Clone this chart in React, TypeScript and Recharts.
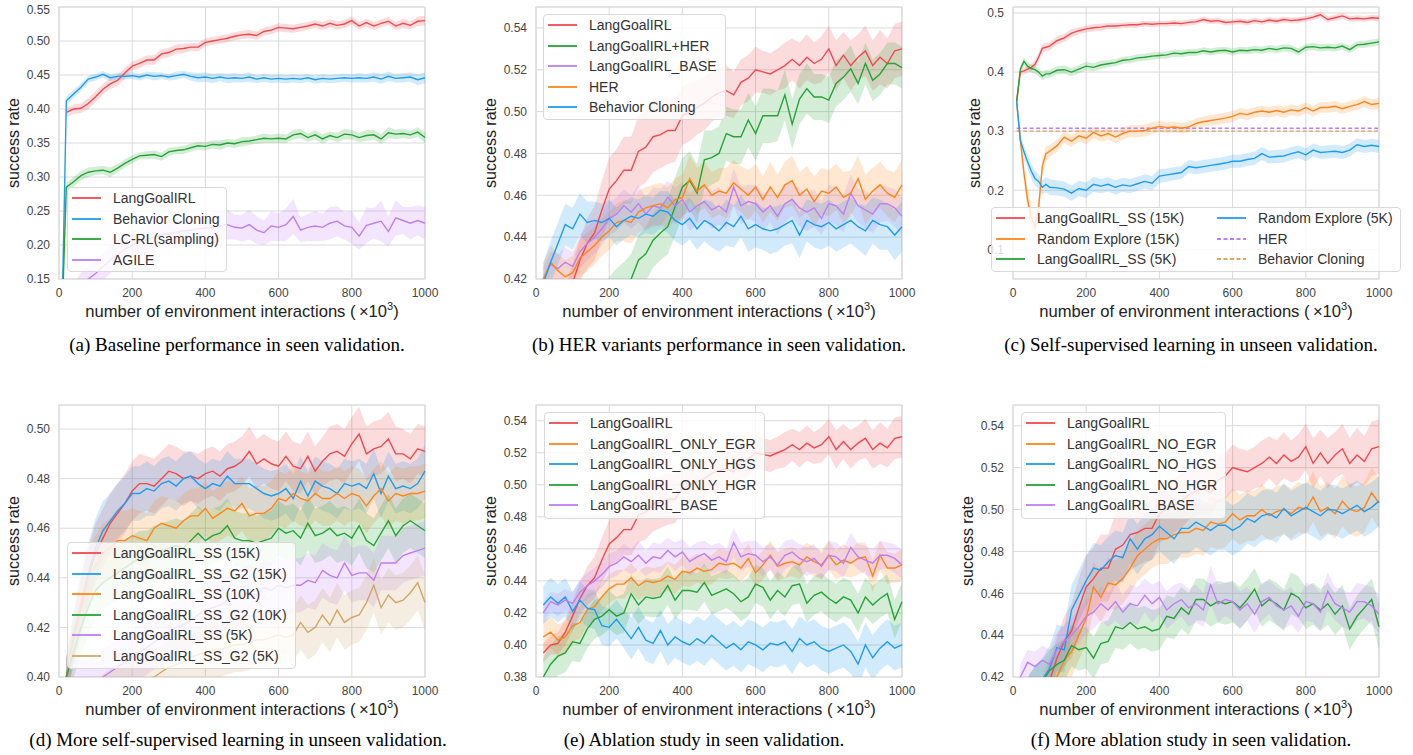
import React from 'react';
import { ComposedChart, Line, Area, XAxis, YAxis, CartesianGrid, ReferenceArea, ReferenceLine } from 'recharts';

// x positions (thousands of interactions)
const steps = [20, 40, 60, 80, 100, 120, 140, 160, 180, 200, 220, 240, 260, 280, 300, 320, 340, 360, 380, 400,
  420, 440, 460, 480, 500, 520, 540, 560, 580, 600, 620, 640, 660, 680, 700, 720, 740, 760, 780, 800,
  820, 840, 860, 880, 900, 920, 940, 960, 980, 1000];
const aX = [10, ...steps];
const cX = [10, 20, 30, 40, 50, 60, 70, 80, 90, 100, 120, 140, 160, 180, 200, 220, 240, 260, 280, 300, 320, 340, 360, 380, 400,
  420, 440, 460, 480, 500, 520, 540, 560, 580, 600, 620, 640, 660, 680, 700, 720, 740, 760, 780, 800,
  820, 840, 860, 880, 900, 920, 940, 960, 980, 1000];
const xTicks = [0, 200, 400, 600, 800, 1000];

// shared curves (seen validation)
const langGoalIRL = [0.395, 0.400, 0.401, 0.408, 0.418, 0.429, 0.437, 0.442, 0.453, 0.463,
  0.467, 0.472, 0.472, 0.481, 0.483, 0.488, 0.489, 0.491, 0.491, 0.498,
  0.500, 0.502, 0.504, 0.507, 0.509, 0.510, 0.508, 0.514, 0.516, 0.520,
  0.519, 0.518, 0.520, 0.522, 0.525, 0.522, 0.526, 0.523, 0.525, 0.530,
  0.522, 0.527, 0.522, 0.526, 0.529, 0.522, 0.526, 0.523, 0.529, 0.530];
const langGoalIRLBase = [0.420, 0.427, 0.425, 0.428, 0.426, 0.433, 0.437, 0.440, 0.444, 0.449,
  0.451, 0.455, 0.452, 0.456, 0.451, 0.455, 0.454, 0.459, 0.455, 0.458,
  0.452, 0.455, 0.457, 0.453, 0.455, 0.452, 0.464, 0.455, 0.457, 0.456,
  0.452, 0.455, 0.450, 0.456, 0.458, 0.454, 0.452, 0.454, 0.449, 0.456,
  0.455, 0.451, 0.461, 0.455, 0.453, 0.451, 0.456, 0.456, 0.454, 0.450];
const redSpreadWide = [0.006, 0.006, 0.007, 0.008, 0.009, 0.010, 0.012, 0.013, 0.014, 0.015,
  0.015, 0.016, 0.016, 0.017, 0.017, 0.017, 0.016, 0.016, 0.015, 0.014,
  0.014, 0.013, 0.013, 0.012, 0.012, 0.012, 0.011, 0.011, 0.011, 0.011,
  0.010, 0.010, 0.010, 0.011, 0.010, 0.011, 0.011, 0.010, 0.011, 0.011,
  0.012, 0.011, 0.012, 0.011, 0.012, 0.012, 0.013, 0.012, 0.013, 0.013];
const baseSpread = [0.006, 0.006, 0.007, 0.007, 0.007, 0.008, 0.008, 0.008, 0.008, 0.008,
  0.008, 0.008, 0.008, 0.009, 0.008, 0.009, 0.009, 0.008, 0.009, 0.008,
  0.009, 0.009, 0.008, 0.009, 0.009, 0.008, 0.009, 0.009, 0.008, 0.009,
  0.009, 0.008, 0.009, 0.009, 0.008, 0.009, 0.009, 0.009, 0.008, 0.009,
  0.009, 0.009, 0.009, 0.008, 0.009, 0.009, 0.009, 0.008, 0.009, 0.009];

// (a) baseline
const aRedSpread = [0.007, 0.007, 0.007, 0.008, 0.008, 0.008, 0.008, 0.008, 0.008, 0.007,
  0.007, 0.007, 0.007, 0.007, 0.007, 0.007, 0.007, 0.006, 0.006, 0.006,
  0.006, 0.006, 0.006, 0.006, 0.006, 0.006, 0.006, 0.006, 0.006, 0.006,
  0.006, 0.006, 0.006, 0.006, 0.006, 0.006, 0.006, 0.006, 0.006, 0.006,
  0.006, 0.006, 0.006, 0.006, 0.006, 0.006, 0.007, 0.006, 0.007, 0.007];
const aBC = [0.14, 0.412, 0.422, 0.432, 0.444, 0.447, 0.451, 0.446, 0.448, 0.448, 0.449,
  0.447, 0.450, 0.448, 0.449, 0.447, 0.449, 0.451, 0.448, 0.446, 0.447,
  0.445, 0.447, 0.445, 0.446, 0.445, 0.447, 0.444, 0.446, 0.444, 0.445,
  0.444, 0.445, 0.444, 0.446, 0.443, 0.445, 0.444, 0.445, 0.446, 0.445,
  0.446, 0.445, 0.447, 0.444, 0.448, 0.445, 0.446, 0.447, 0.443, 0.446];
const aBCSpread = [0, 0.006, 0.006, 0.006, 0.005, 0.005, 0.005, 0.005, 0.005, 0.005, 0.005,
  0.005, 0.005, 0.006, 0.005, 0.005, 0.006, 0.005, 0.006, 0.007, 0.007,
  0.007, 0.006, 0.007, 0.007, 0.006, 0.007, 0.006, 0.006, 0.006, 0.006,
  0.006, 0.006, 0.006, 0.006, 0.006, 0.006, 0.006, 0.006, 0.006, 0.006,
  0.007, 0.006, 0.007, 0.007, 0.007, 0.006, 0.007, 0.007, 0.008, 0.008];
const aLCRL = [0.12, 0.285, 0.293, 0.302, 0.307, 0.309, 0.310, 0.307, 0.313, 0.320, 0.326,
  0.331, 0.332, 0.333, 0.330, 0.337, 0.339, 0.340, 0.343, 0.346, 0.345,
  0.348, 0.347, 0.350, 0.349, 0.352, 0.353, 0.355, 0.357, 0.356, 0.357,
  0.356, 0.362, 0.364, 0.358, 0.362, 0.356, 0.361, 0.358, 0.363, 0.362,
  0.358, 0.361, 0.362, 0.356, 0.365, 0.363, 0.364, 0.362, 0.366, 0.358];
const aLCRLSpread = [0, 0.006, 0.007, 0.007, 0.007, 0.006, 0.006, 0.007, 0.006, 0.006, 0.006,
  0.005, 0.006, 0.006, 0.006, 0.006, 0.005, 0.006, 0.006, 0.006, 0.006,
  0.006, 0.007, 0.006, 0.006, 0.007, 0.006, 0.006, 0.007, 0.006, 0.007,
  0.006, 0.007, 0.007, 0.006, 0.007, 0.007, 0.006, 0.007, 0.008, 0.007,
  0.007, 0.008, 0.007, 0.007, 0.008, 0.007, 0.007, 0.006, 0.007, 0.008];
const aAGILE = [0.10, 0.12, 0.14, 0.15, 0.158, 0.168, 0.178, 0.186, 0.194, 0.200,
  0.205, 0.208, 0.212, 0.215, 0.217, 0.219, 0.221, 0.222, 0.224, 0.225,
  0.226, 0.228, 0.230, 0.226, 0.225, 0.230, 0.222, 0.218, 0.228, 0.226,
  0.230, 0.242, 0.222, 0.226, 0.228, 0.226, 0.232, 0.235, 0.228, 0.226,
  0.213, 0.229, 0.232, 0.235, 0.220, 0.240, 0.236, 0.232, 0.236, 0.232];
const aAGILESpread = [0.02, 0.02, 0.02, 0.02, 0.02, 0.02, 0.02, 0.02, 0.02, 0.02,
  0.02, 0.02, 0.02, 0.02, 0.02, 0.02, 0.02, 0.02, 0.022, 0.02,
  0.024, 0.02, 0.022, 0.018, 0.02, 0.022, 0.02, 0.018, 0.022, 0.02,
  0.024, 0.026, 0.018, 0.02, 0.022, 0.02, 0.024, 0.022, 0.02, 0.024,
  0.02, 0.026, 0.022, 0.03, 0.022, 0.026, 0.02, 0.024, 0.022, 0.024];

// (b) HER variants
const bHERPlus = [0.38, 0.382, 0.385, 0.388, 0.39, 0.393, 0.396, 0.40, 0.405, 0.41,
  0.413, 0.416, 0.42, 0.429, 0.432, 0.4385, 0.442, 0.445, 0.4545, 0.464,
  0.467, 0.461, 0.477, 0.478, 0.480, 0.4895, 0.488, 0.488, 0.496, 0.4895,
  0.498, 0.498, 0.498, 0.508, 0.494, 0.506, 0.511, 0.507, 0.507, 0.5055,
  0.5135, 0.5165, 0.5205, 0.5135, 0.523, 0.515, 0.518, 0.523, 0.523, 0.521];
const bHERPlusSpread = [0.01, 0.01, 0.01, 0.01, 0.01, 0.01, 0.01, 0.01, 0.011, 0.011,
  0.012, 0.012, 0.012, 0.012, 0.013, 0.013, 0.013, 0.013, 0.014, 0.014,
  0.014, 0.014, 0.014, 0.013, 0.013, 0.013, 0.013, 0.013, 0.013, 0.013,
  0.013, 0.013, 0.012, 0.012, 0.012, 0.012, 0.012, 0.011, 0.011, 0.011,
  0.011, 0.011, 0.011, 0.010, 0.010, 0.010, 0.010, 0.010, 0.010, 0.010];
const bHER = [0.42, 0.428, 0.424, 0.421, 0.423, 0.430, 0.433, 0.436, 0.440, 0.443,
  0.447, 0.448, 0.447, 0.452, 0.454, 0.455, 0.456, 0.454, 0.458, 0.459,
  0.468, 0.462, 0.465, 0.460, 0.462, 0.461, 0.466, 0.463, 0.460, 0.464,
  0.458, 0.464, 0.459, 0.465, 0.467, 0.460, 0.463, 0.457, 0.462, 0.461,
  0.464, 0.459, 0.461, 0.468, 0.458, 0.462, 0.465, 0.461, 0.459, 0.465];
const bHERSpread = [0.008, 0.008, 0.008, 0.008, 0.008, 0.009, 0.009, 0.009, 0.009, 0.009,
  0.009, 0.010, 0.010, 0.010, 0.010, 0.010, 0.010, 0.010, 0.010, 0.011,
  0.011, 0.011, 0.011, 0.011, 0.011, 0.012, 0.011, 0.011, 0.012, 0.011,
  0.011, 0.012, 0.011, 0.011, 0.012, 0.011, 0.011, 0.012, 0.011, 0.011,
  0.011, 0.012, 0.011, 0.011, 0.012, 0.011, 0.011, 0.011, 0.012, 0.012];
const bBC = [0.418, 0.428, 0.437, 0.446, 0.444, 0.451, 0.447, 0.448, 0.447, 0.449,
  0.445, 0.448, 0.450, 0.449, 0.451, 0.450, 0.453, 0.452, 0.448, 0.446,
  0.449, 0.444, 0.448, 0.446, 0.443, 0.447, 0.445, 0.450, 0.444, 0.446,
  0.444, 0.443, 0.444, 0.446, 0.448, 0.441, 0.448, 0.446, 0.445, 0.447,
  0.444, 0.446, 0.448, 0.445, 0.443, 0.448, 0.446, 0.445, 0.441, 0.445];
const bBCSpread = [0.010, 0.010, 0.010, 0.010, 0.010, 0.010, 0.010, 0.009, 0.009, 0.009,
  0.009, 0.009, 0.009, 0.009, 0.009, 0.009, 0.009, 0.010, 0.010, 0.010,
  0.010, 0.010, 0.010, 0.011, 0.010, 0.011, 0.010, 0.010, 0.011, 0.011,
  0.010, 0.011, 0.011, 0.010, 0.011, 0.011, 0.010, 0.011, 0.011, 0.011,
  0.011, 0.011, 0.011, 0.011, 0.012, 0.011, 0.012, 0.011, 0.012, 0.012];

// (c) self-supervised, unseen
const cSS15 = [0.35, 0.40, 0.402, 0.405, 0.408, 0.413, 0.425, 0.44, 0.442, 0.444,
  0.453, 0.458, 0.466, 0.470, 0.473,
  0.475, 0.476, 0.478, 0.478, 0.479, 0.480, 0.480, 0.482, 0.481, 0.482,
  0.482, 0.483, 0.482, 0.484, 0.485, 0.489, 0.486, 0.487, 0.484, 0.485,
  0.486, 0.484, 0.487, 0.485, 0.488, 0.486, 0.489, 0.487, 0.488, 0.490,
  0.493, 0.497, 0.489, 0.492, 0.495, 0.490, 0.491, 0.490, 0.492, 0.491];
const cSS15Spread = [0, 0.006, 0.006, 0.006, 0.006, 0.007, 0.007, 0.007, 0.007, 0.007,
  0.007, 0.007, 0.007, 0.006, 0.006,
  0.006, 0.006, 0.005, 0.005, 0.005, 0.005, 0.005, 0.005, 0.005, 0.005,
  0.005, 0.005, 0.005, 0.005, 0.005, 0.005, 0.005, 0.005, 0.005, 0.005,
  0.005, 0.005, 0.005, 0.005, 0.005, 0.005, 0.005, 0.005, 0.005, 0.005,
  0.005, 0.005, 0.005, 0.005, 0.005, 0.005, 0.005, 0.005, 0.005, 0.005];
const cRE15 = [0.35, 0.285, 0.229, 0.183, 0.155, 0.137, 0.17, 0.24, 0.262, 0.266,
  0.275, 0.29, 0.283, 0.292, 0.288,
  0.298, 0.292, 0.296, 0.290, 0.296, 0.300, 0.300, 0.301, 0.305, 0.308,
  0.306, 0.307, 0.305, 0.307, 0.313, 0.316, 0.318, 0.320, 0.322, 0.325,
  0.330, 0.328, 0.332, 0.334, 0.332, 0.335, 0.332, 0.336, 0.334, 0.340,
  0.334, 0.340, 0.340, 0.342, 0.338, 0.342, 0.345, 0.350, 0.345, 0.347];
const cRE15Spread = [0, 0.01, 0.015, 0.02, 0.02, 0.02, 0.02, 0.015, 0.012, 0.01,
  0.01, 0.01, 0.01, 0.01, 0.01,
  0.01, 0.01, 0.01, 0.01, 0.01, 0.01, 0.01, 0.01, 0.01, 0.009,
  0.009, 0.009, 0.009, 0.009, 0.009, 0.009, 0.009, 0.009, 0.009, 0.009,
  0.009, 0.009, 0.009, 0.009, 0.009, 0.009, 0.009, 0.009, 0.009, 0.009,
  0.009, 0.009, 0.009, 0.009, 0.009, 0.009, 0.009, 0.009, 0.009, 0.009];
const cSS5 = [0.35, 0.405, 0.418, 0.41, 0.406, 0.404, 0.40, 0.393, 0.397, 0.397,
  0.403, 0.404, 0.400, 0.405, 0.410,
  0.408, 0.412, 0.414, 0.416, 0.420, 0.421, 0.424, 0.425, 0.427, 0.428,
  0.429, 0.432, 0.431, 0.433, 0.433, 0.436, 0.434, 0.436, 0.437, 0.434,
  0.437, 0.436, 0.438, 0.437, 0.440, 0.438, 0.441, 0.440, 0.434, 0.442,
  0.443, 0.441, 0.442, 0.441, 0.444, 0.438, 0.446, 0.447, 0.449, 0.451];
const cSS5Spread = [0, 0.006, 0.007, 0.007, 0.007, 0.007, 0.007, 0.007, 0.007, 0.007,
  0.007, 0.007, 0.007, 0.007, 0.007,
  0.007, 0.007, 0.006, 0.006, 0.006, 0.006, 0.006, 0.006, 0.006, 0.006,
  0.006, 0.006, 0.006, 0.006, 0.006, 0.006, 0.006, 0.006, 0.006, 0.006,
  0.006, 0.006, 0.006, 0.006, 0.006, 0.006, 0.006, 0.006, 0.006, 0.006,
  0.006, 0.006, 0.006, 0.006, 0.006, 0.006, 0.006, 0.006, 0.006, 0.006];
const cRE5 = [0.35, 0.285, 0.265, 0.248, 0.232, 0.22, 0.215, 0.205, 0.21, 0.205,
  0.204, 0.202, 0.195, 0.203, 0.200,
  0.21, 0.207, 0.21, 0.205, 0.209, 0.207, 0.211, 0.215, 0.212, 0.224,
  0.226, 0.228, 0.23, 0.240, 0.238, 0.240, 0.242, 0.244, 0.246, 0.249,
  0.249, 0.252, 0.254, 0.262, 0.256, 0.257, 0.258, 0.262, 0.265, 0.260,
  0.268, 0.264, 0.265, 0.266, 0.264, 0.268, 0.277, 0.274, 0.276, 0.274];
const cRE5Spread = [0, 0.008, 0.01, 0.012, 0.012, 0.012, 0.012, 0.012, 0.013, 0.013,
  0.013, 0.013, 0.013, 0.013, 0.013,
  0.013, 0.012, 0.012, 0.012, 0.012, 0.012, 0.012, 0.012, 0.012, 0.012,
  0.011, 0.011, 0.011, 0.011, 0.011, 0.011, 0.011, 0.011, 0.011, 0.011,
  0.011, 0.011, 0.011, 0.011, 0.011, 0.011, 0.011, 0.011, 0.011, 0.011,
  0.011, 0.011, 0.011, 0.011, 0.011, 0.011, 0.011, 0.011, 0.011, 0.011];
const cHERLevel = 0.305;
const cBCLevel = 0.300;

// (d) more self-supervised
const dSS15 = [0.400, 0.415, 0.428, 0.440, 0.450, 0.456, 0.462, 0.466, 0.470, 0.475,
  0.478, 0.478, 0.477, 0.480, 0.483, 0.482, 0.480, 0.481, 0.480, 0.482,
  0.483, 0.481, 0.484, 0.485, 0.487, 0.491, 0.486, 0.488, 0.486, 0.485,
  0.489, 0.485, 0.484, 0.489, 0.483, 0.487, 0.490, 0.491, 0.489, 0.494,
  0.498, 0.490, 0.492, 0.493, 0.496, 0.490, 0.490, 0.488, 0.492, 0.491];
const dSS15Spread = [0.008, 0.010, 0.012, 0.012, 0.012, 0.012, 0.012, 0.012, 0.012, 0.012,
  0.012, 0.011, 0.011, 0.011, 0.011, 0.011, 0.011, 0.010, 0.010, 0.010,
  0.010, 0.010, 0.010, 0.010, 0.010, 0.010, 0.010, 0.010, 0.010, 0.010,
  0.010, 0.010, 0.010, 0.010, 0.010, 0.010, 0.011, 0.011, 0.011, 0.011,
  0.011, 0.011, 0.011, 0.011, 0.011, 0.011, 0.010, 0.010, 0.010, 0.010];
const dG2_15 = [0.400, 0.417, 0.430, 0.442, 0.452, 0.459, 0.463, 0.467, 0.470, 0.474,
  0.474, 0.476, 0.475, 0.478, 0.479, 0.477, 0.480, 0.481, 0.478, 0.476,
  0.478, 0.477, 0.481, 0.478, 0.478, 0.478, 0.476, 0.474, 0.473, 0.474,
  0.476, 0.472, 0.479, 0.473, 0.479, 0.477, 0.476, 0.474, 0.478, 0.477,
  0.478, 0.476, 0.482, 0.474, 0.481, 0.476, 0.477, 0.476, 0.478, 0.483];
const dG2_15Spread = [0.008, 0.010, 0.012, 0.012, 0.012, 0.012, 0.011, 0.011, 0.011, 0.011,
  0.011, 0.011, 0.010, 0.010, 0.010, 0.010, 0.010, 0.010, 0.010, 0.010,
  0.010, 0.010, 0.010, 0.010, 0.010, 0.010, 0.010, 0.010, 0.010, 0.010,
  0.010, 0.010, 0.010, 0.010, 0.010, 0.010, 0.010, 0.010, 0.010, 0.010,
  0.010, 0.010, 0.010, 0.010, 0.010, 0.010, 0.010, 0.010, 0.010, 0.011];
const dSS10 = [0.400, 0.415, 0.430, 0.440, 0.445, 0.450, 0.452, 0.455, 0.455, 0.457,
  0.456, 0.455, 0.460, 0.462, 0.461, 0.460, 0.463, 0.465, 0.465, 0.468,
  0.464, 0.466, 0.468, 0.467, 0.470, 0.465, 0.466, 0.466, 0.468, 0.472,
  0.471, 0.474, 0.472, 0.471, 0.474, 0.472, 0.472, 0.474, 0.472, 0.474,
  0.473, 0.469, 0.473, 0.476, 0.471, 0.474, 0.473, 0.474, 0.474, 0.475];
const dSS10Spread = [0.008, 0.010, 0.012, 0.012, 0.012, 0.012, 0.012, 0.012, 0.012, 0.011,
  0.011, 0.011, 0.011, 0.011, 0.011, 0.011, 0.011, 0.011, 0.011, 0.011,
  0.011, 0.011, 0.011, 0.011, 0.011, 0.011, 0.011, 0.011, 0.011, 0.011,
  0.011, 0.011, 0.011, 0.011, 0.011, 0.011, 0.011, 0.011, 0.011, 0.011,
  0.011, 0.011, 0.011, 0.011, 0.011, 0.011, 0.011, 0.011, 0.011, 0.011];
const dG2_10 = [0.400, 0.410, 0.420, 0.428, 0.435, 0.438, 0.440, 0.442, 0.444, 0.446,
  0.448, 0.448, 0.450, 0.451, 0.452, 0.453, 0.452, 0.455, 0.458, 0.455,
  0.457, 0.458, 0.461, 0.456, 0.455, 0.455, 0.454, 0.455, 0.456, 0.460,
  0.458, 0.459, 0.456, 0.462, 0.457, 0.458, 0.460, 0.457, 0.458, 0.456,
  0.461, 0.455, 0.453, 0.458, 0.463, 0.457, 0.461, 0.463, 0.461, 0.459];
const dG2_10Spread = [0.008, 0.010, 0.011, 0.011, 0.011, 0.011, 0.011, 0.011, 0.011, 0.011,
  0.011, 0.011, 0.011, 0.011, 0.011, 0.011, 0.011, 0.011, 0.011, 0.011,
  0.011, 0.011, 0.011, 0.011, 0.011, 0.011, 0.011, 0.011, 0.011, 0.011,
  0.011, 0.011, 0.011, 0.011, 0.011, 0.011, 0.011, 0.011, 0.011, 0.011,
  0.011, 0.011, 0.011, 0.011, 0.011, 0.011, 0.011, 0.011, 0.011, 0.011];
const dSS5 = [0.400, 0.398, 0.396, 0.396, 0.398, 0.400, 0.402, 0.404, 0.406, 0.408,
  0.410, 0.412, 0.414, 0.416, 0.418, 0.420, 0.421, 0.423, 0.425, 0.427,
  0.428, 0.429, 0.431, 0.432, 0.433, 0.434, 0.433, 0.436, 0.435, 0.437,
  0.436, 0.437, 0.437, 0.439, 0.438, 0.443, 0.441, 0.440, 0.446, 0.441,
  0.442, 0.442, 0.439, 0.446, 0.446, 0.446, 0.449, 0.450, 0.451, 0.452];
const dSS5Spread = [0.008, 0.010, 0.011, 0.011, 0.011, 0.011, 0.011, 0.011, 0.011, 0.011,
  0.011, 0.011, 0.011, 0.011, 0.011, 0.011, 0.011, 0.011, 0.011, 0.011,
  0.011, 0.011, 0.011, 0.011, 0.011, 0.011, 0.011, 0.011, 0.011, 0.011,
  0.011, 0.011, 0.011, 0.011, 0.011, 0.011, 0.011, 0.011, 0.011, 0.011,
  0.011, 0.011, 0.011, 0.011, 0.011, 0.011, 0.011, 0.011, 0.011, 0.011];
const dG2_5 = [0.380, 0.382, 0.384, 0.386, 0.388, 0.390, 0.392, 0.394, 0.396, 0.397,
  0.398, 0.399, 0.400, 0.402, 0.404, 0.405, 0.406, 0.408, 0.409, 0.410,
  0.411, 0.411, 0.412, 0.413, 0.413, 0.414, 0.415, 0.415, 0.416, 0.417,
  0.416, 0.417, 0.422, 0.418, 0.420, 0.425, 0.421, 0.427, 0.422, 0.424,
  0.425, 0.430, 0.437, 0.428, 0.433, 0.430, 0.431, 0.434, 0.438, 0.430];
const dG2_5Spread = [0.008, 0.010, 0.011, 0.011, 0.011, 0.011, 0.011, 0.011, 0.011, 0.011,
  0.011, 0.011, 0.011, 0.011, 0.011, 0.011, 0.011, 0.011, 0.011, 0.011,
  0.011, 0.011, 0.011, 0.011, 0.011, 0.011, 0.011, 0.011, 0.011, 0.011,
  0.011, 0.011, 0.011, 0.011, 0.011, 0.011, 0.011, 0.011, 0.011, 0.011,
  0.011, 0.011, 0.011, 0.011, 0.011, 0.011, 0.011, 0.011, 0.011, 0.011];

// (e) ablation
const eEGR = [0.405, 0.408, 0.403, 0.405, 0.412, 0.414, 0.422, 0.424, 0.430, 0.435,
  0.438, 0.438, 0.442, 0.437, 0.440, 0.439, 0.440, 0.443, 0.441, 0.446,
  0.445, 0.448, 0.446, 0.447, 0.451, 0.450, 0.451, 0.448, 0.454, 0.445,
  0.450, 0.456, 0.449, 0.451, 0.452, 0.450, 0.455, 0.452, 0.450, 0.456,
  0.450, 0.453, 0.451, 0.454, 0.455, 0.443, 0.456, 0.448, 0.448, 0.450];
const eEGRSpread = [0.010, 0.010, 0.010, 0.010, 0.010, 0.010, 0.010, 0.009, 0.009, 0.009,
  0.009, 0.009, 0.009, 0.009, 0.009, 0.009, 0.009, 0.009, 0.009, 0.009,
  0.009, 0.009, 0.009, 0.009, 0.009, 0.009, 0.009, 0.009, 0.009, 0.009,
  0.009, 0.009, 0.009, 0.009, 0.009, 0.009, 0.009, 0.009, 0.009, 0.009,
  0.009, 0.010, 0.009, 0.010, 0.009, 0.010, 0.009, 0.010, 0.009, 0.010];
const eHGS = [0.425, 0.430, 0.426, 0.430, 0.421, 0.428, 0.423, 0.422, 0.412, 0.411,
  0.416, 0.410, 0.404, 0.411, 0.403, 0.401, 0.409, 0.400, 0.405, 0.402,
  0.400, 0.404, 0.401, 0.406, 0.402, 0.398, 0.401, 0.397, 0.402, 0.400,
  0.397, 0.401, 0.400, 0.402, 0.396, 0.404, 0.400, 0.402, 0.398, 0.396,
  0.398, 0.400, 0.396, 0.388, 0.400, 0.392, 0.398, 0.402, 0.398, 0.400];
const eHGSSpread = [0.012, 0.012, 0.012, 0.012, 0.012, 0.012, 0.012, 0.012, 0.012, 0.012,
  0.012, 0.012, 0.013, 0.013, 0.013, 0.013, 0.013, 0.013, 0.013, 0.013,
  0.013, 0.014, 0.014, 0.014, 0.014, 0.014, 0.014, 0.014, 0.014, 0.014,
  0.014, 0.014, 0.014, 0.014, 0.014, 0.014, 0.014, 0.014, 0.014, 0.014,
  0.014, 0.014, 0.014, 0.014, 0.014, 0.014, 0.014, 0.014, 0.014, 0.014];
const eHGR = [0.380, 0.388, 0.393, 0.395, 0.402, 0.401, 0.410, 0.416, 0.418, 0.422,
  0.418, 0.420, 0.432, 0.425, 0.430, 0.429, 0.430, 0.437, 0.428, 0.434,
  0.434, 0.433, 0.439, 0.431, 0.433, 0.435, 0.432, 0.427, 0.430, 0.438,
  0.436, 0.428, 0.434, 0.430, 0.437, 0.438, 0.426, 0.431, 0.433, 0.429,
  0.426, 0.430, 0.428, 0.420, 0.430, 0.425, 0.429, 0.432, 0.416, 0.427];
const eHGRSpread = [0.012, 0.012, 0.012, 0.012, 0.012, 0.012, 0.012, 0.012, 0.012, 0.012,
  0.012, 0.012, 0.012, 0.012, 0.012, 0.012, 0.012, 0.012, 0.012, 0.012,
  0.012, 0.012, 0.012, 0.012, 0.012, 0.012, 0.012, 0.012, 0.012, 0.012,
  0.012, 0.012, 0.012, 0.012, 0.012, 0.012, 0.012, 0.012, 0.012, 0.012,
  0.012, 0.012, 0.012, 0.012, 0.012, 0.012, 0.012, 0.012, 0.012, 0.012];

// (f) more ablation
const fEGR = [0.390, 0.395, 0.400, 0.410, 0.418, 0.420, 0.428, 0.432, 0.440, 0.448,
  0.463, 0.458, 0.465, 0.464, 0.467, 0.472, 0.478, 0.481, 0.484, 0.486,
  0.486, 0.488, 0.489, 0.489, 0.491, 0.490, 0.494, 0.493, 0.494, 0.498,
  0.495, 0.497, 0.497, 0.500, 0.497, 0.499, 0.500, 0.498, 0.501, 0.500,
  0.506, 0.499, 0.501, 0.498, 0.504, 0.500, 0.499, 0.501, 0.508, 0.503];
const fEGRSpread = [0.010, 0.010, 0.010, 0.010, 0.011, 0.011, 0.011, 0.012, 0.012, 0.012,
  0.012, 0.012, 0.012, 0.012, 0.012, 0.012, 0.012, 0.012, 0.012, 0.012,
  0.012, 0.012, 0.012, 0.012, 0.012, 0.012, 0.012, 0.012, 0.012, 0.012,
  0.012, 0.012, 0.012, 0.012, 0.012, 0.012, 0.012, 0.012, 0.012, 0.012,
  0.012, 0.012, 0.012, 0.012, 0.012, 0.012, 0.012, 0.012, 0.012, 0.012];
const fHGS = [0.400, 0.410, 0.415, 0.419, 0.424, 0.434, 0.433, 0.452, 0.459, 0.466,
  0.472, 0.471, 0.475, 0.478, 0.477, 0.486, 0.481, 0.486, 0.488, 0.492,
  0.489, 0.486, 0.491, 0.491, 0.494, 0.492, 0.490, 0.4925, 0.4925, 0.490,
  0.492, 0.4957, 0.494, 0.497, 0.498, 0.496, 0.5005, 0.497, 0.499, 0.501,
  0.499, 0.497, 0.500, 0.4997, 0.498, 0.500, 0.502, 0.499, 0.501, 0.504];
const fHGSSpread = [0.010, 0.010, 0.010, 0.010, 0.011, 0.011, 0.011, 0.012, 0.012, 0.012,
  0.012, 0.012, 0.012, 0.012, 0.012, 0.012, 0.012, 0.012, 0.012, 0.012,
  0.012, 0.012, 0.012, 0.012, 0.012, 0.012, 0.012, 0.012, 0.012, 0.012,
  0.012, 0.012, 0.012, 0.012, 0.012, 0.012, 0.012, 0.012, 0.012, 0.012,
  0.012, 0.012, 0.012, 0.012, 0.012, 0.012, 0.012, 0.012, 0.012, 0.012];
const fHGR = [0.405, 0.410, 0.415, 0.418, 0.423, 0.426, 0.428, 0.435, 0.433, 0.434,
  0.429, 0.436, 0.437, 0.444, 0.443, 0.446, 0.443, 0.444, 0.442, 0.443,
  0.449, 0.448, 0.453, 0.450, 0.457, 0.457, 0.454, 0.456, 0.455, 0.456,
  0.453, 0.457, 0.462, 0.454, 0.457, 0.455, 0.452, 0.460, 0.458, 0.453,
  0.455, 0.452, 0.455, 0.450, 0.454, 0.443, 0.449, 0.453, 0.457, 0.444];
const fHGRSpread = [0.010, 0.010, 0.010, 0.010, 0.010, 0.010, 0.010, 0.010, 0.010, 0.010,
  0.010, 0.010, 0.010, 0.010, 0.010, 0.010, 0.010, 0.010, 0.010, 0.010,
  0.010, 0.010, 0.010, 0.010, 0.010, 0.010, 0.010, 0.010, 0.010, 0.010,
  0.010, 0.010, 0.010, 0.010, 0.010, 0.010, 0.010, 0.010, 0.010, 0.010,
  0.010, 0.010, 0.010, 0.010, 0.010, 0.010, 0.010, 0.010, 0.010, 0.011];

const RED = '#f2494f';
const BLUE = '#1f9cf0';
const GREEN = '#26a336';
const PURPLE = '#be7ef5';
const ORANGE = '#ff8519';
const TAN = '#cfa767';
const GRID = '#dadada';

type Num = number | null;
type Series = { name: string; color: string; mean: Num[]; spread: Num[] };
type LegendItem = { name: string; color: string; dashed?: boolean };
type RefLevel = { name: string; color: string; y: number };
type Panel = {
  id: string;
  xs: number[];
  series: Series[];
  levels?: RefLevel[];
  domain: [number, number];
  yTicks: number[];
  digits: number;
  plot: { l: number; t: number; r: number; b: number };
  legend: { l: number; t: number; w: number; h: number; cols: number; colW: number };
  yLabelX: number;
  caption: string;
  captionX: number;
};

const lead = (arr: Num[]): Num[] => [null, ...arr];

const panels: Panel[] = [
  {
    id: 'a', xs: aX,
    series: [
      { name: 'LangGoalIRL', color: RED, mean: lead(langGoalIRL), spread: lead(aRedSpread) },
      { name: 'Behavior Cloning', color: BLUE, mean: aBC, spread: aBCSpread },
      { name: 'LC-RL(sampling)', color: GREEN, mean: aLCRL, spread: aLCRLSpread },
      { name: 'AGILE', color: PURPLE, mean: lead(aAGILE), spread: lead(aAGILESpread) },
    ],
    domain: [0.15, 0.55], yTicks: [0.15, 0.2, 0.25, 0.3, 0.35, 0.4, 0.45, 0.5, 0.55], digits: 2,
    plot: { l: 59, t: 7, r: 425, b: 279 },
    legend: { l: 67, t: 187, w: 160, h: 85, cols: 1, colW: 0 },
    yLabelX: 14, caption: '(a) Baseline performance in seen validation.', captionX: 237,
  },
  {
    id: 'b', xs: steps,
    series: [
      { name: 'LangGoalIRL', color: RED, mean: langGoalIRL, spread: redSpreadWide },
      { name: 'LangGoalIRL+HER', color: GREEN, mean: bHERPlus, spread: bHERPlusSpread },
      { name: 'LangGoalIRL_BASE', color: PURPLE, mean: langGoalIRLBase, spread: baseSpread },
      { name: 'HER', color: ORANGE, mean: bHER, spread: bHERSpread },
      { name: 'Behavior Cloning', color: BLUE, mean: bBC, spread: bBCSpread },
    ],
    domain: [0.42, 0.55], yTicks: [0.42, 0.44, 0.46, 0.48, 0.5, 0.52, 0.54], digits: 2,
    plot: { l: 536, t: 7, r: 902, b: 279 },
    legend: { l: 543, t: 14, w: 183, h: 106, cols: 1, colW: 0 },
    yLabelX: 491, caption: '(b) HER variants performance in seen validation.', captionX: 719,
  },
  {
    id: 'c', xs: cX,
    series: [
      { name: 'LangGoalIRL_SS (15K)', color: RED, mean: cSS15, spread: cSS15Spread },
      { name: 'Random Explore (15K)', color: ORANGE, mean: cRE15, spread: cRE15Spread },
      { name: 'LangGoalIRL_SS (5K)', color: GREEN, mean: cSS5, spread: cSS5Spread },
      { name: 'Random Explore (5K)', color: BLUE, mean: cRE5, spread: cRE5Spread },
    ],
    levels: [
      { name: 'HER', color: PURPLE, y: cHERLevel },
      { name: 'Behavior Cloning', color: '#dea565', y: cBCLevel },
    ],
    domain: [0.0498, 0.5101], yTicks: [0.1, 0.2, 0.3, 0.4, 0.5], digits: 1,
    plot: { l: 1013, t: 7, r: 1379, b: 279 },
    legend: { l: 991, t: 207, w: 410, h: 65, cols: 2, colW: 221 },
    yLabelX: 975, caption: '(c) Self-supervised learning in unseen validation.', captionX: 1191,
  },
  {
    id: 'd', xs: steps,
    series: [
      { name: 'LangGoalIRL_SS (15K)', color: RED, mean: dSS15, spread: dSS15Spread },
      { name: 'LangGoalIRL_SS_G2 (15K)', color: BLUE, mean: dG2_15, spread: dG2_15Spread },
      { name: 'LangGoalIRL_SS (10K)', color: ORANGE, mean: dSS10, spread: dSS10Spread },
      { name: 'LangGoalIRL_SS_G2 (10K)', color: GREEN, mean: dG2_10, spread: dG2_10Spread },
      { name: 'LangGoalIRL_SS (5K)', color: PURPLE, mean: dSS5, spread: dSS5Spread },
      { name: 'LangGoalIRL_SS_G2 (5K)', color: TAN, mean: dG2_5, spread: dG2_5Spread },
    ],
    domain: [0.4, 0.5097], yTicks: [0.4, 0.42, 0.44, 0.46, 0.48, 0.5], digits: 2,
    plot: { l: 59, t: 405, r: 425, b: 677 },
    legend: { l: 67, t: 542, w: 229, h: 127, cols: 1, colW: 0 },
    yLabelX: 14, caption: '(d) More self-supervised learning in unseen validation.', captionX: 238,
  },
  {
    id: 'e', xs: steps,
    series: [
      { name: 'LangGoalIRL', color: RED, mean: langGoalIRL, spread: redSpreadWide },
      { name: 'LangGoalIRL_ONLY_EGR', color: ORANGE, mean: eEGR, spread: eEGRSpread },
      { name: 'LangGoalIRL_ONLY_HGS', color: BLUE, mean: eHGS, spread: eHGSSpread },
      { name: 'LangGoalIRL_ONLY_HGR', color: GREEN, mean: eHGR, spread: eHGRSpread },
      { name: 'LangGoalIRL_BASE', color: PURPLE, mean: langGoalIRLBase, spread: baseSpread },
    ],
    domain: [0.38, 0.5498], yTicks: [0.38, 0.4, 0.42, 0.44, 0.46, 0.48, 0.5, 0.52, 0.54], digits: 2,
    plot: { l: 536, t: 405, r: 902, b: 677 },
    legend: { l: 544, t: 412, w: 221, h: 107, cols: 1, colW: 0 },
    yLabelX: 491, caption: '(e) Ablation study in seen validation.', captionX: 704,
  },
  {
    id: 'f', xs: steps,
    series: [
      { name: 'LangGoalIRL', color: RED, mean: langGoalIRL, spread: redSpreadWide },
      { name: 'LangGoalIRL_NO_EGR', color: ORANGE, mean: fEGR, spread: fEGRSpread },
      { name: 'LangGoalIRL_NO_HGS', color: BLUE, mean: fHGS, spread: fHGSSpread },
      { name: 'LangGoalIRL_NO_HGR', color: GREEN, mean: fHGR, spread: fHGRSpread },
      { name: 'LangGoalIRL_BASE', color: PURPLE, mean: langGoalIRLBase, spread: baseSpread },
    ],
    domain: [0.42, 0.5499], yTicks: [0.42, 0.44, 0.46, 0.48, 0.5, 0.52, 0.54], digits: 2,
    plot: { l: 1013, t: 405, r: 1379, b: 677 },
    legend: { l: 1021, t: 412, w: 205, h: 107, cols: 1, colW: 0 },
    yLabelX: 968, caption: '(f) More ablation study in seen validation.', captionX: 1191,
  },
];

const SANS = '"Liberation Sans", Arial, sans-serif';
const Y_AXIS_W = 50;
const X_AXIS_H = 30;
const PAD = 5;
const PAD_RIGHT = 24;

function buildRows(xs: number[], series: Series[]) {
  return xs.map((x, i) => {
    const row: Record<string, unknown> = { x };
    series.forEach((s, k) => {
      const m = s.mean[i];
      const d = s.spread[i] ?? 0;
      row['m' + k] = m ?? null;
      row['b' + k] = m == null ? null : [m - d, m + d];
    });
    return row;
  });
}

const PanelLegend: React.FC<{ box: Panel['legend']; items: LegendItem[] }> = ({ box, items }) => {
  const rows = Math.ceil(items.length / box.cols);
  return (
    <div
      style={{
        position: 'absolute', left: box.l, top: box.t, width: box.w, height: box.h,
        boxSizing: 'border-box', background: 'rgba(255,255,255,0.8)',
        border: '1px solid #d9d9d9', borderRadius: 4, fontFamily: SANS,
      }}
    >
      {items.map((it, i) => {
        const col = Math.floor(i / rows);
        const row = i % rows;
        return (
          <div
            key={it.name + i}
            style={{
              position: 'absolute', left: 4 + col * box.colW, top: row * 20.6, height: 20,
              display: 'flex', alignItems: 'center',
            }}
          >
            <svg width={30} height={4} style={{ display: 'block' }}>
              <line x1={0} y1={2} x2={29} y2={2} stroke={it.color} strokeWidth={1.8}
                strokeDasharray={it.dashed ? '4 2.5' : undefined} />
            </svg>
            <span style={{ marginLeft: 11, fontSize: 14, color: '#333', whiteSpace: 'nowrap' }}>{it.name}</span>
          </div>
        );
      })}
    </div>
  );
};

const PanelChart: React.FC<{ p: Panel }> = ({ p }) => {
  const rows = buildRows(p.xs, p.series);
  const width = p.plot.r - p.plot.l + Y_AXIS_W + PAD_RIGHT;
  const height = p.plot.b - p.plot.t + PAD + X_AXIS_H;
  const tickStyle = { fontSize: 12, fill: '#444', fontFamily: SANS };
  const legendItems: LegendItem[] = [
    ...p.series.map((s) => ({ name: s.name, color: s.color })),
    ...(p.levels ?? []).map((l) => ({ name: l.name, color: l.color, dashed: true })),
  ];
  const cx = (p.plot.l + p.plot.r) / 2;
  const cy = (p.plot.t + p.plot.b) / 2;
  return (
    <>
      <div style={{ position: 'absolute', left: p.plot.l - Y_AXIS_W, top: p.plot.t - PAD }}>
        <ComposedChart width={width} height={height} data={rows}
          margin={{ top: PAD, right: PAD_RIGHT, left: 0, bottom: 0 }}>
          <CartesianGrid stroke={GRID} strokeWidth={1} />
          <XAxis type="number" dataKey="x" domain={[0, 1000]} ticks={xTicks} height={X_AXIS_H}
            axisLine={false} tickLine={false} tickSize={4} tickMargin={5} tick={tickStyle} />
          <YAxis type="number" domain={p.domain} ticks={p.yTicks} allowDataOverflow width={Y_AXIS_W}
            axisLine={false} tickLine={false} tickSize={4} tickMargin={5} tick={tickStyle}
            tickFormatter={(v: number) => v.toFixed(p.digits)} />
          <ReferenceArea x1={0} x2={1000} y1={p.domain[0]} y2={p.domain[1]} fill="none" stroke={GRID} strokeWidth={1.2} />
          {p.series.map((s, k) => (
            <Area key={'b' + k} dataKey={'b' + k} type="linear" stroke="none" fill={s.color}
              fillOpacity={0.2} isAnimationActive={false} activeDot={false} />
          ))}
          {(p.levels ?? []).map((l) => (
            <ReferenceLine key={l.name} segment={[{ x: 10, y: l.y }, { x: 1000, y: l.y }]}
              stroke={l.color} strokeWidth={1.4} strokeDasharray="4 2.5" />
          ))}
          {p.series.map((s, k) => (
            <Line key={'m' + k} dataKey={'m' + k} type="linear" stroke={s.color} strokeWidth={1.4}
              dot={false} activeDot={false} isAnimationActive={false} />
          ))}
        </ComposedChart>
      </div>
      <PanelLegend box={p.legend} items={legendItems} />
      <div style={{
        position: 'absolute', left: p.yLabelX - 100, top: cy - 10, width: 200, height: 20, lineHeight: '20px',
        textAlign: 'center', transform: 'rotate(-90deg)', fontSize: 16, color: '#222', fontFamily: SANS,
      }}>success rate</div>
      <div style={{
        position: 'absolute', left: cx - 220, top: p.plot.b + 22, width: 440, height: 22, lineHeight: '22px',
        textAlign: 'center', fontSize: 16.6, color: '#222', fontFamily: SANS, whiteSpace: 'nowrap',
      }}>number of environment interactions ({'\u2009'}×10<sup style={{ fontSize: 11, lineHeight: 0 }}>3</sup>)</div>
      <div style={{
        position: 'absolute', left: p.captionX - 260, top: p.plot.b + (p.plot.t > 100 ? 52 : 55), width: 520, height: 22,
        lineHeight: '22px', textAlign: 'center', fontSize: 19, color: '#000',
        fontFamily: '"Liberation Serif", "Times New Roman", serif', whiteSpace: 'nowrap',
      }}>{p.caption}</div>
    </>
  );
};

export default function App() {
  return (
    <div style={{ position: 'absolute', left: 0, top: 0, width: 1413, height: 755, background: '#fff', overflow: 'hidden' }}>
      {panels.map((p) => (
        <PanelChart key={p.id} p={p} />
      ))}
    </div>
  );
}
